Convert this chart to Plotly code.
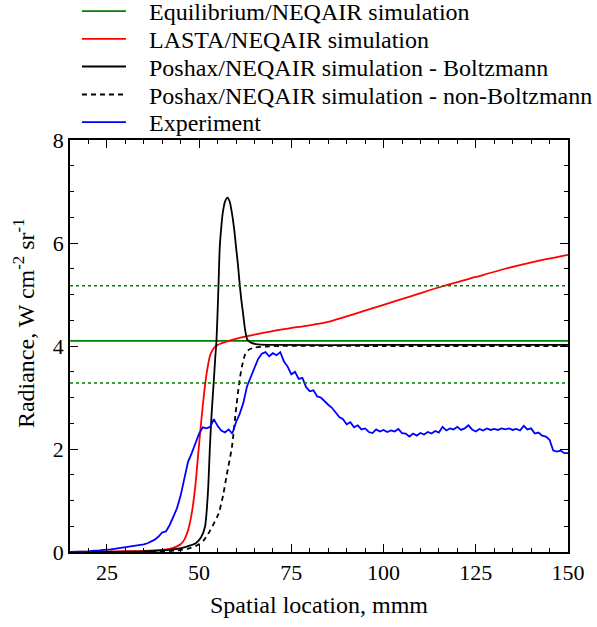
import plotly.graph_objects as go

# ---------------- data ----------------
eq_x = [15, 150]
eq_y = [4.10, 4.10]
eq_upper_y = [5.17, 5.17]
eq_lower_y = [3.28, 3.28]

red_x = [15, 20, 25, 30, 35, 38, 40, 42, 43, 44, 45, 46, 47, 48, 49, 50, 51, 52, 53, 54, 55, 56, 58, 60,
         65, 70, 77, 85, 92, 100, 108, 116, 125, 133, 141, 150]
red_y = [0.0, 0.005, 0.01, 0.015, 0.02, 0.03, 0.04, 0.06, 0.08, 0.11, 0.15, 0.24, 0.42, 0.75, 1.3, 2.1,
         2.85, 3.45, 3.82, 3.96, 4.02, 4.05, 4.10, 4.14, 4.22, 4.29, 4.37, 4.47, 4.62, 4.80, 4.98, 5.16,
         5.34, 5.50, 5.64, 5.77]

bol_x = [15, 25, 35, 40, 44, 46.4, 49.1, 50.5, 51.6, 52.0, 52.5, 52.9, 53.4, 54.0, 54.4, 54.7, 55.0, 55.3,
         55.6, 56.0, 56.4, 57.0, 57.7, 58.3, 58.9, 59.5, 60.0, 60.5, 60.9, 61.4, 61.9, 62.5, 63.1, 64.2,
         66, 70, 100, 150]
bol_y = [0.0, 0.002, 0.01, 0.03, 0.06, 0.10, 0.17, 0.28, 0.49, 0.75, 1.3, 2.0, 2.7, 3.34, 3.8, 4.1, 4.64,
         5.28, 5.93, 6.3, 6.58, 6.8, 6.88, 6.8, 6.58, 6.27, 5.93, 5.6, 5.28, 4.92, 4.64, 4.3, 4.12, 4.06,
         4.03, 4.02, 4.02, 4.02]

nb_x = [15, 30, 39.2, 44, 47.3, 49.5, 51.3, 53, 55.3, 56.5, 57.5, 58.9, 59.9, 60.9, 61.6, 62.5, 63.5, 65,
        68, 72, 100, 150]
nb_y = [0.0, 0.002, 0.01, 0.03, 0.07, 0.13, 0.23, 0.42, 0.75, 1.1, 1.5, 2.04, 2.7, 3.3, 3.6, 3.84, 3.93,
        3.97, 3.99, 4.0, 4.0, 4.0]

exp_x = [15, 16, 17, 18, 19, 20, 21, 22, 23, 24, 25, 26, 27, 28, 29, 30, 31, 32, 33, 34, 35, 36, 37, 38,
         39, 40, 41, 42, 43, 44, 45, 46, 47, 48, 49, 50, 51, 52, 53, 54, 55, 56, 57, 58, 59, 60, 61, 62,
         63, 64, 65, 66, 67, 68, 69, 70, 71, 72, 73, 74, 75, 76, 77, 78, 79, 80, 81, 82, 83, 84, 85, 86,
         87, 88, 89, 90, 91, 92, 93, 94, 95, 96, 97, 98, 99, 100, 101, 102, 103, 104, 105, 106, 107, 108,
         109, 110, 111, 112, 113, 114, 115, 116, 117, 118, 119, 120, 121, 122, 123, 124, 125, 126, 127,
         128, 129, 130, 131, 132, 133, 134, 135, 136, 137, 138, 139, 140, 141, 142, 143, 144, 145, 146,
         147, 148, 149, 150]
exp_y = [0.00, 0.00, 0.00, 0.01, 0.01, 0.01, 0.02, 0.02, 0.03, 0.04, 0.04, 0.05, 0.06, 0.07, 0.08, 0.09,
         0.11, 0.12, 0.12, 0.14, 0.15, 0.17, 0.20, 0.24, 0.30, 0.38, 0.40, 0.52, 0.68, 0.85, 1.10, 1.45,
         1.75, 1.92, 2.10, 2.30, 2.42, 2.40, 2.43, 2.58, 2.45, 2.36, 2.32, 2.38, 2.30, 2.52, 2.68, 2.90,
         3.22, 3.40, 3.58, 3.75, 3.85, 3.88, 3.80, 3.86, 3.82, 3.88, 3.70, 3.60, 3.45, 3.50, 3.36, 3.38,
         3.20, 3.12, 3.14, 3.02, 3.00, 2.92, 2.86, 2.80, 2.70, 2.62, 2.58, 2.48, 2.52, 2.42, 2.46, 2.38,
         2.40, 2.33, 2.31, 2.38, 2.34, 2.37, 2.33, 2.36, 2.34, 2.39, 2.31, 2.30, 2.24, 2.30, 2.26, 2.31,
         2.28, 2.33, 2.30, 2.35, 2.32, 2.43, 2.36, 2.40, 2.38, 2.43, 2.37, 2.40, 2.46, 2.38, 2.34, 2.39,
         2.36, 2.40, 2.37, 2.39, 2.37, 2.40, 2.38, 2.40, 2.37, 2.39, 2.36, 2.45, 2.38, 2.40, 2.30, 2.32,
         2.26, 2.24, 2.18, 1.97, 1.95, 1.97, 1.92, 1.92]

x_ticks = [25, 50, 75, 100, 125, 150]
y_ticks = [0, 2, 4, 6, 8]

series_names = ["Equilibrium/NEQAIR simulation",
                "LASTA/NEQAIR simulation",
                "Poshax/NEQAIR simulation - Boltzmann",
                "Poshax/NEQAIR simulation - non-Boltzmann",
                "Experiment"]

FONT = "Liberation Serif"
GREEN = "#008000"
PAD = "\u00a0\u00a0\u00a0"
legend_ids = ["legend", "legend2", "legend3", "legend4", "legend5"]
legend_rows_px = [11.5, 39.2, 66.9, 94.9, 122.5]   # row centres in the header band

fig = go.Figure()
fig.add_trace(go.Scatter(x=eq_x, y=eq_y, mode="lines", name=PAD + series_names[0], legend=legend_ids[0],
                         line=dict(color=GREEN, width=1.6)))
fig.add_trace(go.Scatter(x=red_x, y=red_y, mode="lines", name=PAD + series_names[1], legend=legend_ids[1],
                         line=dict(color="#ff0000", width=1.8, shape="spline", smoothing=0.6)))
fig.add_trace(go.Scatter(x=bol_x, y=bol_y, mode="lines", name=PAD + series_names[2], legend=legend_ids[2],
                         line=dict(color="black", width=1.8, shape="spline", smoothing=0.6)))
fig.add_trace(go.Scatter(x=nb_x, y=nb_y, mode="lines", name=PAD + series_names[3], legend=legend_ids[3],
                         line=dict(color="black", width=1.8, dash="5px,4px", shape="spline", smoothing=0.6)))
fig.add_trace(go.Scatter(x=exp_x, y=exp_y, mode="lines", name=PAD + series_names[4], legend=legend_ids[4],
                         line=dict(color="#0000ff", width=1.8)))
fig.add_trace(go.Scatter(x=eq_x, y=eq_upper_y, mode="lines", showlegend=False,
                         line=dict(color=GREEN, width=1.5, dash="dot")))
fig.add_trace(go.Scatter(x=eq_x, y=eq_lower_y, mode="lines", showlegend=False,
                         line=dict(color=GREEN, width=1.5, dash="dot")))

axis_common = dict(showgrid=False, zeroline=False, showline=True, linecolor="black", linewidth=1.5,
                   mirror="ticks", ticks="inside", ticklen=8, tickwidth=1.2, tickcolor="black",
                   tickfont=dict(family=FONT, size=22, color="black"))

fig.update_xaxes(range=[15, 150], tickvals=x_ticks, ticktext=[str(v) for v in x_ticks],
                 minor=dict(dtick=5, tick0=0, ticks="inside", ticklen=4, tickcolor="black", tickwidth=1),
                 title=dict(text="Spatial location, mmm",
                            font=dict(family=FONT, size=24, color="black"), standoff=12),
                 **axis_common)
fig.update_yaxes(range=[0, 8], tickvals=y_ticks, ticktext=[str(v) for v in y_ticks],
                 minor=dict(dtick=0.5, tick0=0, ticks="inside", ticklen=4, tickcolor="black", tickwidth=1),
                 **axis_common)

fig.add_annotation(text="Radiance, W cm<sup>-2</sup> sr<sup>-1</sup>", textangle=-90,
                   xref="paper", yref="paper", x=-0.092, y=0.556, xanchor="center", yanchor="middle",
                   showarrow=False, font=dict(family=FONT, size=24, color="black"))

legend_layout = {}
for lid, row in zip(legend_ids, legend_rows_px):
    legend_layout[lid] = dict(x=0.014, xref="paper", xanchor="left",
                              y=1 - row / 627, yref="container", yanchor="middle",
                              bgcolor="rgba(0,0,0,0)", borderwidth=0, itemwidth=44,
                              font=dict(family=FONT, size=24, color="black"))

fig.update_layout(
    width=597, height=627,
    margin=dict(l=70, r=29, t=140, b=75, autoexpand=False),
    paper_bgcolor="white", plot_bgcolor="white",
    **legend_layout,
)

fig.write_html("out.html")
